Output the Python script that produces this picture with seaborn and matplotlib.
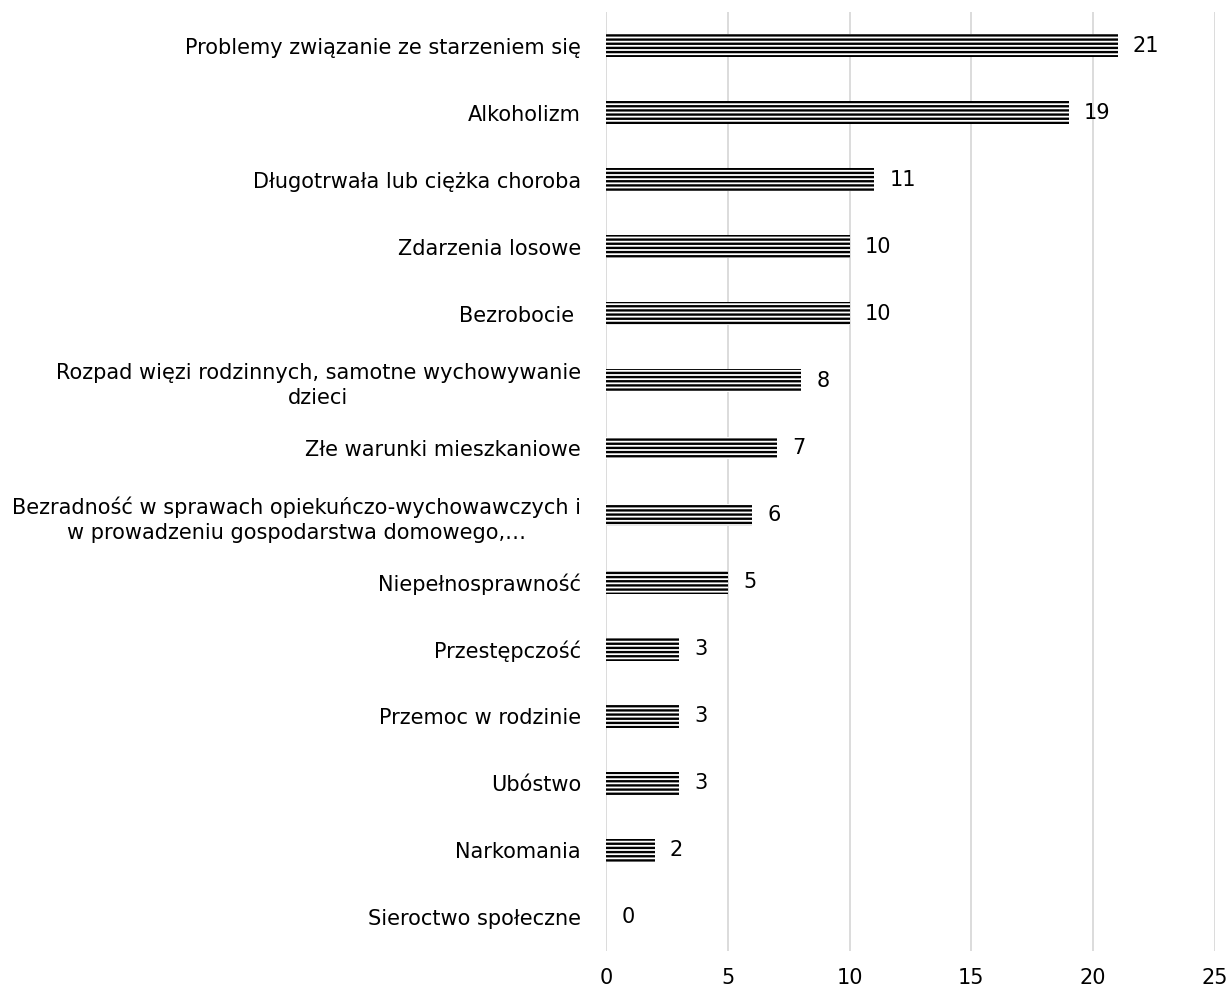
import matplotlib
matplotlib.use("Agg")
import matplotlib.pyplot as plt
import seaborn as sns
import pandas as pd

# ---------------- DATA ----------------
categories = [
    "Problemy związanie ze starzeniem się",
    "Alkoholizm",
    "Długotrwała lub ciężka choroba",
    "Zdarzenia losowe",
    "Bezrobocie ",
    "Rozpad więzi rodzinnych, samotne wychowywanie\ndzieci",
    "Złe warunki mieszkaniowe",
    "Bezradność w sprawach opiekuńczo-wychowawczych i\nw prowadzeniu gospodarstwa domowego,…",
    "Niepełnosprawność",
    "Przestępczość",
    "Przemoc w rodzinie",
    "Ubóstwo",
    "Narkomania",
    "Sieroctwo społeczne",
]
values = [21, 19, 11, 10, 10, 8, 7, 6, 5, 3, 3, 3, 2, 0]
x_ticks = [0, 5, 10, 15, 20, 25]

df = pd.DataFrame({"category": categories, "value": values})

# ---------------- STYLE ----------------
sns.set_style("white")
plt.rcParams["font.family"] = ["DejaVu Sans"]
plt.rcParams["text.color"] = "black"
plt.rcParams["hatch.linewidth"] = 1.7
plt.rcParams["hatch.color"] = "black"

FS = 15

fig = plt.figure(figsize=(12.3, 9.94), dpi=100)
ax = fig.add_axes([606 / 1230, 1 - 951 / 994, (1215 - 606) / 1230, (951 - 12) / 994])

sns.barplot(
    data=df, x="value", y="category", orient="h",
    color="white", width=0.34, ax=ax,
    edgecolor="black", linewidth=0, hatch="----",
)

# ---------------- AXES ----------------
ax.set_xlim(0, 25)
ax.set_ylim(len(categories) - 0.5, -0.5)
ax.set_xticks(x_ticks)
ax.xaxis.grid(True, color="#d9d9d9", linewidth=1.3)
ax.set_axisbelow(True)
for s in ax.spines.values():
    s.set_visible(False)
ax.tick_params(axis="x", length=0, pad=12, labelsize=FS, labelcolor="black")
ax.tick_params(axis="y", length=0, pad=18, labelsize=FS, labelcolor="black")
for lbl in ax.get_yticklabels():
    lbl.set_horizontalalignment("right")
    lbl.set_multialignment("center")
    lbl.set_linespacing(1.35)
ax.set_xlabel("")
ax.set_ylabel("")

# ---------------- VALUE LABELS ----------------
for i, v in enumerate(values):
    ax.annotate(str(v), xy=(v, i), xytext=(11, 0), textcoords="offset points",
                ha="left", va="center", fontsize=FS, color="black")

plt.savefig("out.png", dpi=100)
plt.close()
